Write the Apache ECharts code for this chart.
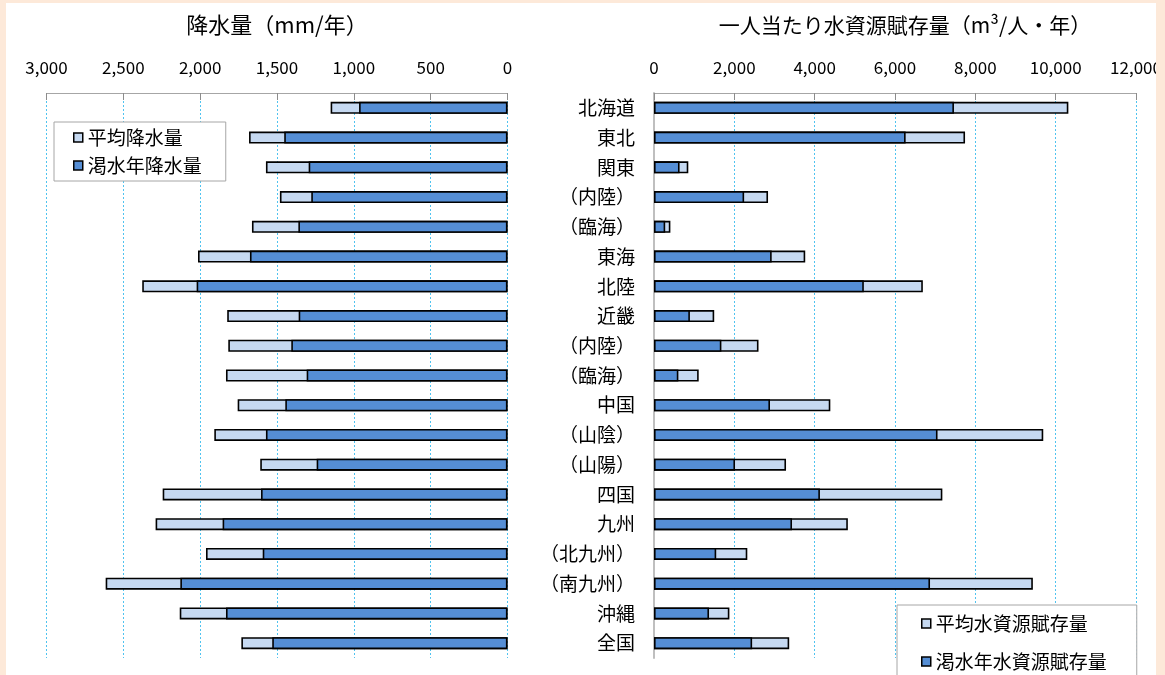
<!DOCTYPE html>
<html><head><meta charset="utf-8">
<script src="https://cdn.jsdelivr.net/npm/echarts@6/dist/echarts.min.js"></script>
<style>
html,body{margin:0;padding:0;background:#fde9d9;}
#panel{position:absolute;left:6px;top:3px;width:1150px;height:672px;background:#fff;}
#chart{position:absolute;left:0;top:0;width:1165px;height:675px;}
</style></head><body>
<div id="panel"></div>
<div id="chart"></div>
<script>
const categories = ['北海道','東北','関東','（内陸）','（臨海）','東海','北陸','近畿','（内陸）','（臨海）','中国','（山陰）','（山陽）','四国','九州','（北九州）','（南九州）','沖縄','全国'];
const avgRain = [1151,1682,1572,1481,1663,2014,2377,1824,1817,1832,1756,1908,1609,2244,2290,1962,2615,2133,1732];
const dryRain = [966,1453,1294,1277,1361,1676,2023,1359,1407,1307,1446,1572,1242,1604,1854,1593,2129,1832,1531];
const avgWater = [10316,7744,854,2839,408,3765,6693,1499,2602,1113,4390,9691,3287,7179,4826,2323,9432,1877,3366];
const dryWater = [7468,6265,637,2244,279,2930,5224,894,1678,607,2888,7059,2017,4131,3436,1549,6872,1370,2443];
const rainTicks = {min:0, max:3000, interval:500};
const waterTicks = {min:0, max:12000, interval:2000};

const FONT = '"Noto Sans CJK JP","Noto Sans",sans-serif';
const LIGHT = '#c6d9f1', DARK = '#558ed5';
const TXT = '#000';
const PEACH = '#fde9d9';
const fmt = v => v.toLocaleString('en-US');
const grid = '#4fc3f0';

function xAxis(gi, t, inverse){
  return {type:'value', gridIndex:gi, position:'top', inverse:inverse, min:t.min, max:t.max, interval:t.interval,
    axisLine:{show:true, lineStyle:{color:'#a6a6a6', width:1}},
    axisTick:{show:true, inside:true, length:7, lineStyle:{color:'#8c8c8c'}},
    axisLabel:{formatter:fmt, fontSize:17, color:TXT, margin:17, fontFamily:FONT},
    splitLine:{show:true, lineStyle:{color:grid, type:[2,2], width:1}}};
}
const barBase = {type:'bar', barWidth:12};

const chart = echarts.init(document.getElementById('chart'));
chart.setOption({
  animation:false,
  grid:[{left:46.5, top:93, width:461, height:565}, {left:654, top:93, width:482, height:565}],
  xAxis:[xAxis(0, rainTicks, true), xAxis(1, waterTicks, false)],
  yAxis:[
    {type:'category', gridIndex:0, data:categories, inverse:true, position:'right', show:false},
    {type:'category', gridIndex:1, data:categories, inverse:true,
     axisLine:{show:true, lineStyle:{color:'#bfbfbf', width:2}}, axisTick:{show:false},
     axisLabel:{fontSize:19, color:TXT, margin:19, fontFamily:FONT}, splitLine:{show:false}}
  ],
  legend:[
    {data:['平均降水量','渇水年降水量'], orient:'vertical', left:54, top:122, height:60, padding:[6,24,6,19],
     itemWidth:9, itemHeight:9, itemGap:9, icon:'rect', backgroundColor:'#fff', borderColor:'#a6a6a6', borderWidth:1,
     itemStyle:{borderColor:'#000', borderWidth:1.5},
     textStyle:{fontSize:19, lineHeight:19, color:TXT, fontFamily:FONT}},
    {data:['平均水資源賦存量','渇水年水資源賦存量'], orient:'vertical', left:897, top:605, height:100, padding:[9,30,30,24],
     itemWidth:9, itemHeight:9, itemGap:19, icon:'rect', backgroundColor:'#fff', borderColor:'#a6a6a6', borderWidth:1,
     itemStyle:{borderColor:'#000', borderWidth:1.5},
     textStyle:{fontSize:19, lineHeight:19, color:TXT, fontFamily:FONT}}
  ],
  graphic:[
    {type:'text', x:277, y:25, style:{text:'降水量（mm/年）', fill:TXT, font:'22px '+FONT, textAlign:'center', textVerticalAlign:'middle'}},
    {type:'text', x:905, y:25, style:{text:'一人当たり水資源賦存量（m³/人・年）', fill:TXT, font:'21px '+FONT, textAlign:'center', textVerticalAlign:'middle'}},
    {type:'rect', shape:{x:1156, y:0, width:9, height:675}, style:{fill:PEACH}, z:100},
    {type:'rect', shape:{x:0, y:0, width:1165, height:3}, style:{fill:PEACH}, z:100},
    {type:'rect', shape:{x:0, y:0, width:6, height:675}, style:{fill:PEACH}, z:100}
  ],
  series:[
    Object.assign({}, barBase, {name:'平均降水量', xAxisIndex:0, yAxisIndex:0, data:avgRain, itemStyle:{color:LIGHT, borderColor:'#000', borderWidth:1.6}}),
    Object.assign({}, barBase, {name:'渇水年降水量', xAxisIndex:0, yAxisIndex:0, barGap:'-100%', data:dryRain, itemStyle:{color:DARK, borderColor:'#000', borderWidth:1.6}}),
    Object.assign({}, barBase, {name:'平均水資源賦存量', xAxisIndex:1, yAxisIndex:1, data:avgWater, itemStyle:{color:LIGHT, borderColor:'#000', borderWidth:1.6}}),
    Object.assign({}, barBase, {name:'渇水年水資源賦存量', xAxisIndex:1, yAxisIndex:1, barGap:'-100%', data:dryWater, itemStyle:{color:DARK, borderColor:'#000', borderWidth:1.6}})
  ]
});
</script>
</body></html>
